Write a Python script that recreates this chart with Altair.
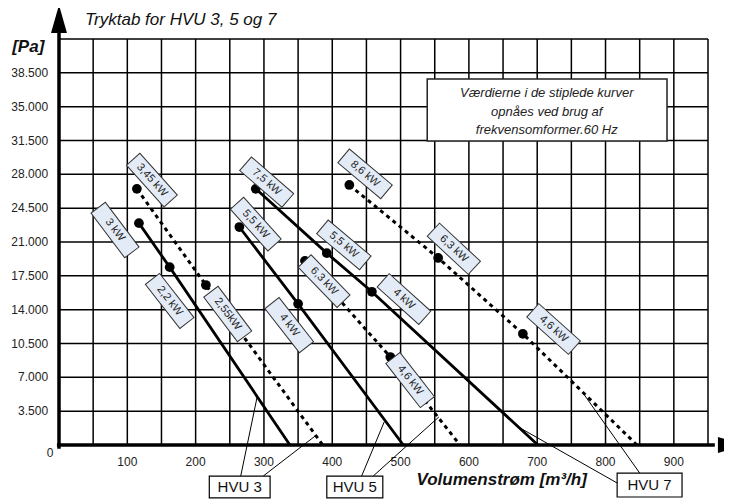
import altair as alt
import pandas as pd

# ---------------- data ----------------
x_tick_labels = [100, 200, 300, 400, 500, 600, 700, 800, 900]
y_tick_values = [3500, 7000, 10500, 14000, 17500, 21000, 24500, 28000, 31500, 35000, 38500]
y_tick_labels = ["3.500", "7.000", "10.500", "14.000", "17.500", "21.000", "24.500",
                 "28.000", "31.500", "35.000", "38.500"]
x_grid = [50, 100, 150, 200, 250, 300, 350, 400, 450, 500, 550, 600, 650, 700, 750, 800, 850, 900, 950]
y_grid = [3500, 7000, 10500, 14000, 17500, 21000, 24500, 28000, 31500, 35000, 38500, 42000]

series = ["HVU3 solid", "HVU3 dashed", "HVU5 solid", "HVU5 dashed", "HVU7 solid", "HVU7 dashed"]
series_style = ["solid", "dashed", "solid", "dashed", "solid", "dashed"]
hvu3_solid_x = [117, 162, 338]
hvu3_solid_y = [22950, 18400, 0]
hvu3_dashed_x = [114, 215, 386]
hvu3_dashed_y = [26500, 16550, 0]
hvu5_solid_x = [264, 350, 504]
hvu5_solid_y = [22550, 14600, 0]
hvu5_dashed_x = [360, 485, 587]
hvu5_dashed_y = [19050, 9100, 0]
hvu7_solid_x = [288, 392, 458, 701]
hvu7_solid_y = [26500, 19850, 15850, 0]
hvu7_dashed_x = [425, 555, 679, 846]
hvu7_dashed_y = [26900, 19350, 11500, 0]

label_text = ["3,45 kW", "3 kW", "2,2 kW", "2,55kW", "7,5 kW", "5,5 kW", "8,6 kW",
              "5,5 kW", "6,3 kW", "4 kW", "4 kW", "6,3 kW", "4,6 kW", "4,6 kW"]
label_x = [136, 82, 162, 247, 304, 288, 448, 417, 388, 337, 505, 578, 514, 724]
label_y = [27400, 22240, 14900, 13550, 27200, 22850, 28050, 20700, 16950, 12400, 15100, 20300, 6720, 12000]
label_angle = [48, 53, 52, 53, 41, 48, 40, 40, 46, 52, 42, 43, 52, 42]

hvu_names = ["HVU 3", "HVU 5", "HVU 7"]
hvu_box_x1 = [220, 392, 817]
hvu_box_x2 = [309, 474, 912]
hvu_box_y1 = [-3210, -3210, -2900]
hvu_box_y2 = [-5480, -5480, -5380]
leader_x1 = [266, 299, 443, 460, 817, 850]
leader_y1 = [-3210, -3210, -3210, -3210, -3930, -2900]
leader_x2 = [290, 375, 476, 556, 675, 767]
leader_y2 = [4965, 930, 2380, 2900, 1760, 5380]

note_lines = ["Værdierne i de stiplede kurver", "opnåes ved brug af", "frekvensomformer.60 Hz"]
note_y = [36410, 34450, 32590]

# ---------------- tables ----------------
xs = [hvu3_solid_x, hvu3_dashed_x, hvu5_solid_x, hvu5_dashed_x, hvu7_solid_x, hvu7_dashed_x]
ys = [hvu3_solid_y, hvu3_dashed_y, hvu5_solid_y, hvu5_dashed_y, hvu7_solid_y, hvu7_dashed_y]
rows = []
for name, style, sx, sy in zip(series, series_style, xs, ys):
    for i, (a, b) in enumerate(zip(sx, sy)):
        rows.append({"series": name, "style": style, "order": i, "x": a, "y": b,
                     "dot": i < len(sx) - 1})
lines = pd.DataFrame(rows)
labels = pd.DataFrame({"text": label_text, "x": label_x, "y": label_y, "angle": label_angle})
hvu = pd.DataFrame({"name": hvu_names, "x": hvu_box_x1, "x2": hvu_box_x2, "y": hvu_box_y1, "y2": hvu_box_y2})
hvu["xc"] = (hvu["x"] + hvu["x2"]) / 2
hvu["yc"] = (hvu["y"] + hvu["y2"]) / 2
leaders = pd.DataFrame({"x": leader_x1, "y": leader_y1, "x2": leader_x2, "y2": leader_y2})

FONT = "Liberation Sans"
xscale = alt.Scale(domain=[0, 950], nice=False, zero=False)
yscale = alt.Scale(domain=[0, 42000], nice=False, zero=False)


def X(f="x"):
    return alt.X(f, type="quantitative", scale=xscale, axis=None)


def Y(f="y"):
    return alt.Y(f, type="quantitative", scale=yscale, axis=None)


# grid
vgrid = alt.Chart(pd.DataFrame({"x": x_grid, "y": [0] * len(x_grid), "y2": [42000] * len(x_grid)})).mark_rule(
    color="black", strokeWidth=1.5).encode(x=X(), y=Y(), y2="y2")
hgrid = alt.Chart(pd.DataFrame({"y": y_grid, "x": [0] * len(y_grid), "x2": [950] * len(y_grid)})).mark_rule(
    color="black", strokeWidth=1.5).encode(x=X(), x2="x2", y=Y())

xlab = alt.Chart(pd.DataFrame({"x": x_tick_labels, "y": [-1760] * len(x_tick_labels),
                               "t": [str(v) for v in x_tick_labels]})).mark_text(
    font=FONT, fontSize=12, color="#222", align="center", baseline="middle").encode(x=X(), y=Y(), text="t:N")
ylab = alt.Chart(pd.DataFrame({"y": y_tick_values, "x": [-16] * len(y_tick_values),
                               "t": y_tick_labels})).mark_text(
    font=FONT, fontSize=12, color="#222", align="right", baseline="middle").encode(x=X(), y=Y(), text="t:N")

# note box
note_box = alt.Chart(pd.DataFrame({"x": [539], "x2": [890], "y": [37860], "y2": [31450]})).mark_rect(
    fill="white", stroke="#222", strokeWidth=1.5).encode(x=X(), x2="x2", y=Y(), y2="y2")
note_text = alt.Chart(pd.DataFrame({"t": note_lines, "y": note_y, "x": [714] * 3})).mark_text(
    font=FONT, fontSize=13, fontStyle="italic", color="#222", align="center", baseline="middle"
).encode(x=X(), y=Y(), text="t:N")

solid = alt.Chart(lines[lines["style"] == "solid"]).mark_line(color="black", strokeWidth=2.8).encode(
    x=X(), y=Y(), detail="series:N", order="order:Q")
dashed = alt.Chart(lines[lines["style"] == "dashed"]).mark_line(
    color="black", strokeWidth=3, strokeDash=[4, 4]).encode(
    x=X(), y=Y(), detail="series:N", order="order:Q")
dots = alt.Chart(lines[lines["dot"]]).mark_circle(color="black", size=95, opacity=1).encode(x=X(), y=Y())

rect_path = "M-1,-0.32 L1,-0.32 L1,0.32 L-1,0.32 Z"
boxes = alt.Chart(labels).mark_point(shape=rect_path, size=3136, filled=True, fill="#E3EBF6",
                                     stroke="#333", strokeWidth=1, opacity=1).encode(
    x=X(), y=Y(), angle=alt.Angle("angle:Q", scale=None))
box_text = alt.Chart(labels).mark_text(font=FONT, fontSize=11, color="#222", align="center",
                                       baseline="middle").encode(
    x=X(), y=Y(), text="text:N", angle=alt.Angle("angle:Q", scale=None))

leader = alt.Chart(leaders).mark_rule(color="black", strokeWidth=1).encode(x=X(), y=Y(), x2="x2", y2="y2")
hvu_rect = alt.Chart(hvu).mark_rect(fill="white", stroke="black", strokeWidth=1.2).encode(
    x=X(), x2="x2", y=Y(), y2="y2")
hvu_text = alt.Chart(hvu).mark_text(font=FONT, fontSize=15, color="#111", align="center",
                                    baseline="middle").encode(x=X("xc"), y=Y("yc"), text="name:N")

# axes with arrows
axis_lines = alt.Chart(pd.DataFrame({"x": [0, -3], "x2": [0, 960], "y": [-400, 0], "y2": [42620, 0]})).mark_rule(
    color="black", strokeWidth=3.5).encode(x=X(), x2="x2", y=Y(), y2="y2")
arrow_path = "M0,-1 L0.57,1 L-0.57,1 Z"
arrows = alt.Chart(pd.DataFrame({"x": [0, 985], "y": [44070, 0], "a": [0, 90]})).mark_point(
    shape=arrow_path, size=784, filled=True, color="black", opacity=1).encode(
    x=X(), y=Y(), angle=alt.Angle("a:Q", scale=None))

title = alt.Chart(pd.DataFrame({"t": ["Tryktab for HVU 3, 5 og 7"], "x": [38], "y": [43960]})).mark_text(
    font=FONT, fontSize=17, fontStyle="italic", color="#111",
    align="left", baseline="middle").encode(x=X(), y=Y(), text="t:N")
pa = alt.Chart(pd.DataFrame({"t": ["[Pa]"], "x": [-45], "y": [41170]})).mark_text(
    font=FONT, fontSize=17, fontStyle="italic", fontWeight="bold", color="#111",
    align="center", baseline="middle").encode(x=X(), y=Y(), text="t:N")
zero = alt.Chart(pd.DataFrame({"t": ["0"], "x": [-13], "y": [-830]})).mark_text(
    font=FONT, fontSize=12, color="#222", align="center", baseline="middle").encode(x=X(), y=Y(), text="t:N")
xtitle = alt.Chart(pd.DataFrame({"t": ["Volumenstrøm [m³/h]"], "x": [648], "y": [-3620]})).mark_text(
    font=FONT, fontSize=17, fontStyle="italic", fontWeight="bold", color="#111",
    align="center", baseline="middle").encode(x=X(), y=Y(), text="t:N")

chart = alt.layer(
    vgrid, hgrid, xlab, ylab, note_box, note_text, solid, dashed, dots, boxes, box_text, leader,
    hvu_rect, hvu_text, axis_lines, arrows, title, pa, zero, xtitle
).properties(
    width=649, height=406,
    autosize=alt.AutoSizeParams(type="none"),
    padding={"left": 51, "top": 31, "right": 16, "bottom": 54},
    background="white",
).configure_view(stroke=None)

chart.save("out.html", embed_options={"renderer": "svg", "actions": False})
